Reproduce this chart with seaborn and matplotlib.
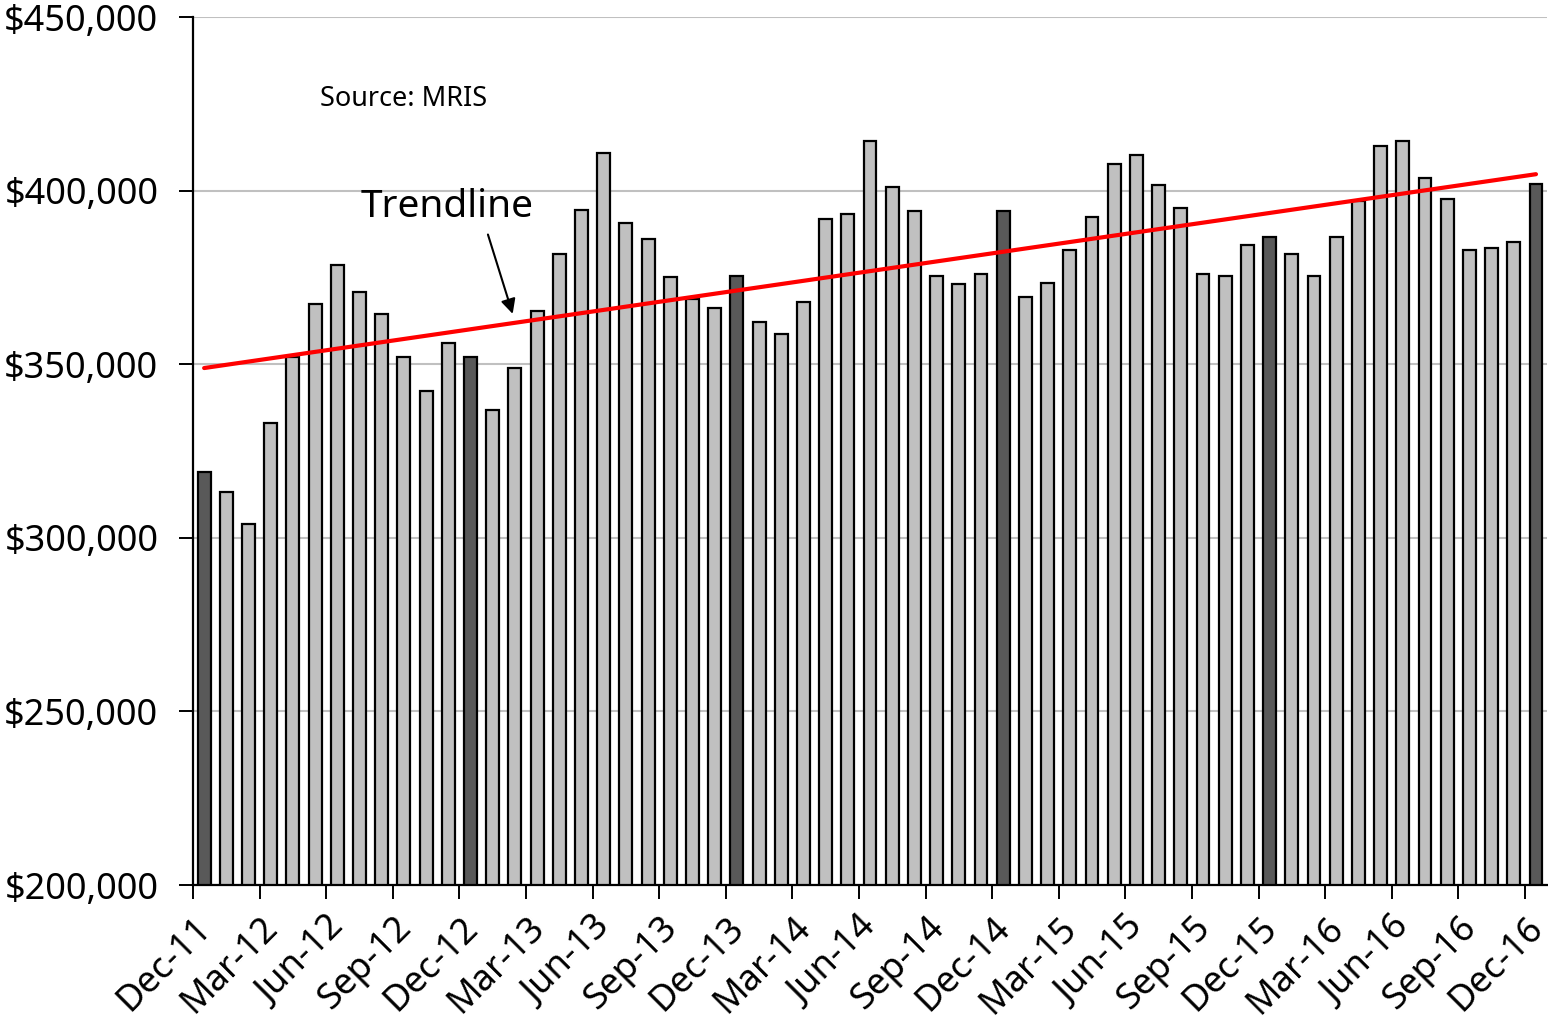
import numpy as np
import pandas as pd
import matplotlib
matplotlib.use("Agg")
import matplotlib.pyplot as plt
import matplotlib.transforms as mtransforms
import seaborn as sns
from matplotlib.ticker import FuncFormatter, FixedLocator

# monthly median sales price, Dec-11 .. Dec-16
months = pd.date_range("2011-12-01", "2016-12-01", freq="MS").strftime("%b-%y").tolist()
prices = [
    319000,
    313100, 303900, 333200, 352000, 367400, 378600, 370900, 364400, 352000, 342400, 356100, 352000,
    336700, 349000, 365300, 381600, 394500, 410800, 390800, 386200, 375000, 368800, 366300, 375500,
    362300, 358600, 367800, 391900, 393400, 414400, 401100, 394000, 375500, 373000, 376100, 394000,
    369500, 373500, 382800, 392400, 407700, 410300, 401700, 395000, 376100, 375500, 384200, 386700,
    381600, 375500, 386700, 397000, 412800, 414400, 403500, 397500, 382800, 383600, 385300, 401900,
]
yticks = [200000, 250000, 300000, 350000, 400000, 450000]

df = pd.DataFrame({"month": months, "price": prices})
df["idx"] = np.arange(len(df))
df["december"] = df["month"].str.startswith("Dec")

sns.set_theme(style="white")
plt.rcParams["font.family"] = ["Noto Sans", "DejaVu Sans"]
for key in ["text.color", "axes.labelcolor", "xtick.color", "ytick.color"]:
    plt.rcParams[key] = "black"

fig = plt.figure(figsize=(15.48, 10.19), dpi=100)
ax = fig.add_axes([0.1247, 0.1315, 0.8747, 0.8518])

sns.barplot(
    data=df, x="idx", y="price", hue="december",
    palette={False: "#C0C0C0", True: "#595959"},
    dodge=False, width=0.58, edgecolor="black", linewidth=1.6,
    legend=False, ax=ax, zorder=2,
)

# least-squares trendline across the whole series
sns.regplot(
    data=df, x="idx", y="price", scatter=False, ci=None,
    line_kws={"color": "#FF0000", "linewidth": 3, "zorder": 3}, ax=ax,
)

ax.set_ylim(200000, 450000)
ax.set_xlim(-0.5, len(df) - 0.5)
ax.set_yticks(yticks)
ax.yaxis.set_major_formatter(FuncFormatter(lambda v, _: f"${v:,.0f}"))
ax.yaxis.grid(True, color="#C0C0C0", linewidth=1.5, zorder=0)
ax.set_axisbelow(True)

# tick marks between categories, labels on every third month
ax.xaxis.set_major_locator(FixedLocator(np.arange(-0.5, len(df) - 1, 3)))
ax.xaxis.set_major_formatter(FuncFormatter(lambda v, _: ""))
label_pos = df["idx"][::3]
ax.set_xticks(label_pos, df["month"][::3], minor=True)
ax.tick_params(axis="x", which="major", direction="out", length=10, width=1.4, color="black", bottom=True)
ax.tick_params(axis="x", which="minor", length=0, labelsize=26, pad=25)
shift = mtransforms.ScaledTranslation(0.02, -0.03, fig.dpi_scale_trans)
for lab in ax.get_xticklabels(minor=True):
    lab.set_rotation(45)
    lab.set_ha("right")
    lab.set_va("center")
    lab.set_rotation_mode("anchor")
    lab.set_transform(lab.get_transform() + shift)
ax.tick_params(axis="y", direction="out", length=10, width=1.4, color="black", left=True, labelsize=26, pad=15)

ax.set_xlabel("")
ax.set_ylabel("")
for side in ["top", "right"]:
    ax.spines[side].set_visible(False)
for side in ["left", "bottom"]:
    ax.spines[side].set_color("black")
    ax.spines[side].set_linewidth(1.6)

ax.text(0.094, 0.905, "Source: MRIS", transform=ax.transAxes, fontsize=19.5,
        ha="left", va="center", color="black")
ax.annotate(
    "Trendline", xy=(13.9, 364500), xytext=(10.95, 395300),
    fontsize=28, ha="center", va="center", color="black",
    arrowprops=dict(arrowstyle="-|>", color="black", lw=1.5, mutation_scale=22,
                    relpos=(0.72, 0.0), shrinkA=4, shrinkB=0),
)

fig.savefig("out.png", dpi=100)
